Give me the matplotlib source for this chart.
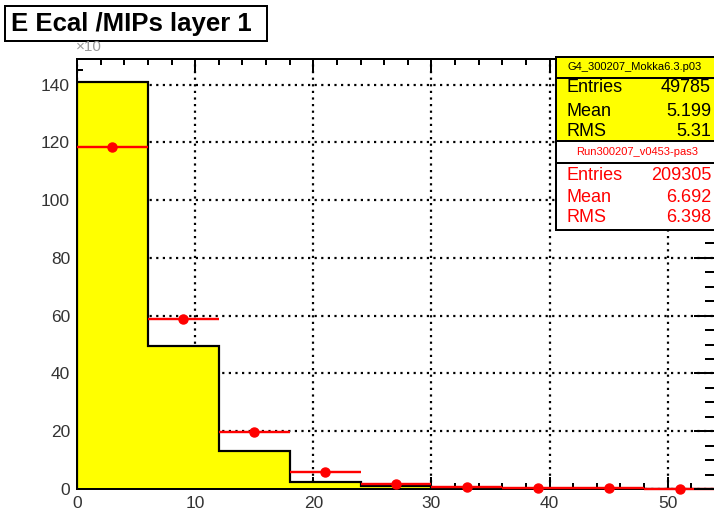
import numpy as np
import matplotlib
matplotlib.use("Agg")
import matplotlib.pyplot as plt
from matplotlib.patches import Rectangle
from matplotlib.ticker import MultipleLocator

plt.rcParams['font.family'] = ['Liberation Sans', 'DejaVu Sans']

# Histogram binning (E Ecal in MIPs) and contents (in units of 10)
bin_edges = [0, 6, 12, 18, 24, 30, 36, 42, 48, 54]
sim_counts = [141.0, 49.4, 13.0, 2.5, 1.2, 0.5, 0.1, 0.0, 0.0]
data_counts = [118.2, 58.8, 19.7, 5.9, 1.7, 0.8, 0.3, 0.2, 0.1]

sim_name = "G4_300207_Mokka6.3.p03"
data_name = "Run300207_v0453-pas3"
sim_stats = [("Entries", "49785"), ("Mean", "5.199"), ("RMS", "5.31")]
data_stats = [("Entries", "209305"), ("Mean", "6.692"), ("RMS", "6.398")]

W, H = 714, 512
fig = plt.figure(figsize=(W / 100, H / 100), dpi=100)
fig.patch.set_facecolor("white")

px = 0.72  # points per pixel at 100 dpi

x0, x1 = 77, 715
y_top, y_bot = 58.5, 489
ax = fig.add_axes([x0 / W, (H - y_bot) / H, (x1 - x0) / W, (y_bot - y_top) / H])
ax.set_xlim(0, 54)
ax.set_ylim(0, 149)

edges = np.array(bin_edges, dtype=float)
centers = 0.5 * (edges[:-1] + edges[1:])
half = 0.5 * np.diff(edges)

ax.grid(True, which="major", color="black", linestyle=(0, (1, 2)), linewidth=2.2 * px,
        dash_capstyle="butt", zorder=0)
ax.set_axisbelow(True)

ax.stairs(sim_counts, edges, fill=True, color="#ffff00", zorder=2)
ax.stairs(sim_counts, edges, baseline=0, fill=False, color="black", linewidth=2.2 * px, zorder=3)

ax.errorbar(centers, data_counts, xerr=half, fmt="o", color="#ff0000", markersize=6.5,
            elinewidth=2.4 * px, capsize=0, zorder=5, clip_on=False)

for s in ax.spines.values():
    s.set_linewidth(2 * px)
    s.set_color("black")

ax.xaxis.set_major_locator(MultipleLocator(10))
ax.xaxis.set_minor_locator(MultipleLocator(2))
ax.yaxis.set_major_locator(MultipleLocator(20))
ax.yaxis.set_minor_locator(MultipleLocator(5))
ax.tick_params(which="both", direction="in", top=True, right=False, width=2 * px,
               labelsize=12.5, labelcolor="#333333", pad=5)
ax.tick_params(which="major", length=12 * px)
ax.tick_params(which="minor", length=6 * px)

# Longer ticks on the right-hand axis
axr = ax.twinx()
axr.set_ylim(ax.get_ylim())
axr.yaxis.set_major_locator(MultipleLocator(20))
axr.yaxis.set_minor_locator(MultipleLocator(5))
axr.tick_params(which="both", direction="in", right=True, labelright=False, width=2 * px)
axr.tick_params(which="major", length=21 * px)
axr.tick_params(which="minor", length=10 * px)
for s in axr.spines.values():
    s.set_visible(False)

# Overlay in pixel coordinates for title and statistics boxes
ov = fig.add_axes([0, 0, 1, 1], zorder=10)
ov.set_xlim(0, W)
ov.set_ylim(H, 0)
ov.axis("off")
ov.patch.set_alpha(0)

ov.add_patch(Rectangle((5, 6), 262, 35, facecolor="white", edgecolor="black", linewidth=2 * px))
ov.text(11, 24, "E Ecal /MIPs layer 1", fontsize=18.5, fontweight="bold", ha="left", va="center")

ov.text(76, 47, "\u00d710", fontsize=11, color="#999999", ha="left", va="center")

# Simulation statistics box
ov.add_patch(Rectangle((556, 57), 162, 84, facecolor="#ffff00", edgecolor="black", linewidth=2 * px))
ov.plot([556, 718], [78, 78], color="black", linewidth=2 * px)
ov.text(635, 67.5, sim_name, fontsize=8, ha="center", va="center", color="black")
for (lab, val), yy in zip(sim_stats, [88, 112, 132]):
    ov.text(566, yy, lab, fontsize=13, ha="left", va="center", color="black")
    ov.text(711, yy, val, fontsize=13, ha="right", va="center", color="black")

# Data statistics box
ov.add_patch(Rectangle((556, 141), 162, 89, facecolor="white", edgecolor="black", linewidth=2 * px))
ov.plot([556, 718], [163, 163], color="black", linewidth=2 * px)
ov.text(637, 152, data_name, fontsize=8, ha="center", va="center", color="#ff0000")
for (lab, val), yy in zip(data_stats, [176, 197, 218]):
    ov.text(566, yy, lab, fontsize=13, ha="left", va="center", color="#ff0000")
    ov.text(711, yy, val, fontsize=13, ha="right", va="center", color="#ff0000")

fig.savefig("out.png", dpi=100)
